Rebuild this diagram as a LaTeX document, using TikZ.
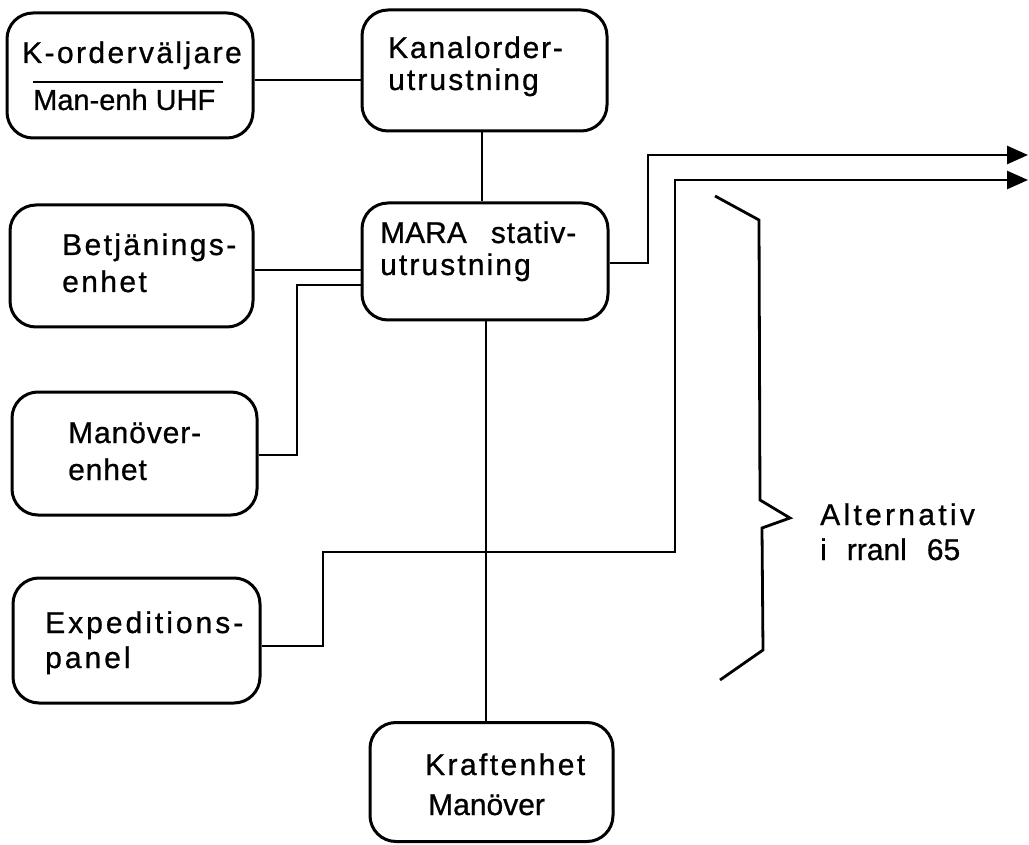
\documentclass[tikz,border=0pt]{standalone}
\usepackage{fontspec}
\defaultfontfeatures{FakeBold=0.8}
\setmainfont{Liberation Sans}
\newfontfamily\fA[LetterSpace=3]{Liberation Sans}
\newfontfamily\fB[LetterSpace=6]{Liberation Sans}
\newfontfamily\fU[LetterSpace=7]{Liberation Sans}
\newfontfamily\fC[LetterSpace=8]{Liberation Sans}
\newfontfamily\fD[LetterSpace=10]{Liberation Sans}
\newfontfamily\fE[LetterSpace=11]{Liberation Sans}
\usetikzlibrary{arrows.meta}
\begin{document}
\begin{tikzpicture}[x=1pt,y=-1pt,
  box/.style={draw, line width=3pt, rounded corners=26pt, inner sep=0pt},
  lbl/.style={anchor=base west, inner sep=0pt, font=\fontsize{30}{34}\selectfont},
  wire/.style={line width=2.8pt},
  arr/.style={wire, -{Triangle[length=21pt,width=18pt]}},
]
\useasboundingbox (0,0) rectangle (1029,845);

% boxes
\node[box, minimum width=246pt, minimum height=125pt] (kord)  at (130,75.5) {};
\node[box, minimum width=245pt, minimum height=121pt] (kanal) at (484.5,70.5) {};
\node[box, minimum width=243pt, minimum height=122pt] (betj)  at (131.5,266) {};
\node[box, minimum width=246pt, minimum height=117pt] (mara)  at (485,261.5) {};
\node[box, minimum width=245pt, minimum height=123pt] (manov) at (134.5,453.5) {};
\node[box, minimum width=247pt, minimum height=125pt] (exped) at (136.5,640.5) {};
\node[box, minimum width=243pt, minimum height=119pt] (kraft) at (491.5,782) {};

% texts
\node[lbl] (t1a) at (22,63) {\fC K-orderväljare};
\draw[wire] (33,82) -- (223,82);
\node[lbl, font=\fontsize{29}{34}\selectfont] (t1b) at (33,110) {Man-enh UHF};
\node[lbl] (t2a) at (388,58) {\fB Kanalorder-};
\node[lbl] (t2b) at (388,90) {\fU utrustning};
\node[lbl] (t3a) at (62,255) {\fC Betjänings-};
\node[lbl] (t3b) at (62,292) {\fC enhet};
\node[lbl] (t4a) at (380,243) {MARA\hspace{24pt}{\fA stativ-}};
\node[lbl] (t4b) at (380,275) {\fU utrustning};
\node[lbl] (t5a) at (68,443) {\fA Manöver-};
\node[lbl] (t5b) at (68,480) {\fA enhet};
\node[lbl] (t6a) at (45,633) {\fD Expeditions-};
\node[lbl] (t6b) at (45,668) {\fD panel};
\node[lbl] (t7a) at (425,775) {\fC Kraftenhet};
\node[lbl] (t7b) at (428,815) {Manöver};
\node[lbl] (t8a) at (820,525) {\fE Alternativ};
\node[lbl] (t8b) at (820,560) {i\hspace{20pt}rranl\hspace{20pt}65};

% connectors
\coordinate (out1) at (1028,155);
\coordinate (out2) at (1028,180);
\draw[wire] (kord.east |- 0,80) -- (kanal.west |- 0,80);
\draw[wire] (kanal.south -| 482,0) -- (mara.north -| 482,0);
\draw[wire] (betj.east |- 0,270) -- (mara.west |- 0,270);
\draw[wire] (mara.west |- 0,285) -| (297,455) -- (manov.east |- 0,455);
\draw[arr] (mara.east |- 0,263) -| (648,155) -- (out1);
\draw[arr] (exped.east |- 0,646) -| (323,552) -| (675,180) -- (out2);
\draw[wire] (mara.south -| 486,0) -- (kraft.north -| 486,0);

% brace
\draw[wire, line join=miter] (715,196) -- (759,220) -- (760,500) -- (790,518)
  -- (762,528) -- (763,650) -- (720,680);
\end{tikzpicture}
\end{document}
